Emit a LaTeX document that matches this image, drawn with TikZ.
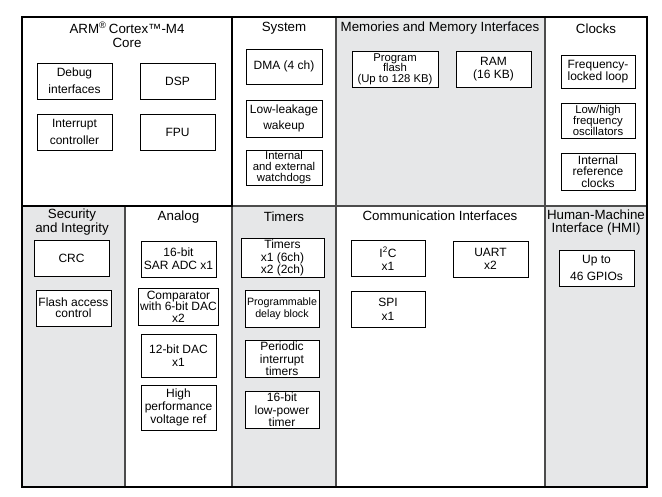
\documentclass[tikz,border=0pt]{standalone}
\usepackage{fontspec}
\setmainfont{Liberation Sans}
\definecolor{secgray}{HTML}{E6E7E8}
\tikzset{every picture/.style={line width=0.75pt}}
\tikzset{
  sec/.style={draw=black!70, line width=1.2pt},
  ttl/.style={align=center, inner sep=0pt, font=\fontsize{10}{10.5}\selectfont},
  blk/.style={draw, fill=white, line width=0.7pt, align=center, inner sep=1pt,
    minimum width=56.25pt, minimum height=27pt, font=\fontsize{9}{9.5}\selectfont},
  blkloose/.style={font=\fontsize{9}{12.5}\selectfont},
  blktight/.style={font=\fontsize{8.5}{8}\selectfont},
}

\begin{document}
\begin{tikzpicture}[x=0.75pt,y=0.75pt,yscale=-1]
	\useasboundingbox (0,0) rectangle (662,497);
	
	%Sections: top row
	\draw [sec, fill=white] (22,17) rectangle (232,206) ;
	\draw [sec, fill=white] (232,17) rectangle (336,206) ;
	\draw [sec, fill=secgray] (336,17) rectangle (545,206) ;
	\draw [sec, fill=white] (545,17) rectangle (647,206) ;
	%Sections: bottom row
	\draw [sec, fill=secgray] (22,206) rectangle (125,487) ;
	\draw [sec, fill=white] (125,206) rectangle (232,487) ;
	\draw [sec, fill=secgray] (232,206) rectangle (336,487) ;
	\draw [sec, fill=white] (336,206) rectangle (545,487) ;
	\draw [sec, fill=secgray] (545,206) rectangle (647,487) ;
	%Outer frame and core frame
	\draw [line width=1.5pt] (22,17) rectangle (647,487) ;
	\draw [line width=1.5pt] (22,17) rectangle (232,206) ;
	
	%Core
	\node [ttl] (coreT) at (127,34.5) {ARM\textsuperscript{\textregistered}\,Cortex™-M4\\Core};
	\node [blk, blkloose] (debug) at (74.5,81) {Debug\\interfaces};
	\node [blk] (dsp) at (177.5,81) {DSP};
	\node [blk, blkloose] (intc) at (74.5,132) {Interrupt\\controller};
	\node [blk] (fpu) at (177.5,132) {FPU};
	
	%System
	\node [ttl] (sysT) at (284,28) {System};
	\node [blk, minimum width=57pt, minimum height=26.25pt] (dma) at (284,66.5) {DMA (4 ch)};
	\node [blk, blkloose, minimum width=57pt, minimum height=27.75pt] (llwu) at (284,118.5) {Low-leakage\\wakeup};
	\node [blk, blktight, minimum width=57pt, minimum height=26.25pt] (wdog) at (284,167.5) {Internal\\and external\\watchdogs};
	
	%Memories
	\node [ttl] (memT) at (440,28) {Memories and Memory Interfaces};
	\node [blk, blktight, minimum width=64.5pt] (flash) at (395,69) {Program\\flash\\(Up to 128 KB)};
	\node [blk] (ram) at (493.5,69) {RAM\\(16 KB)};
	
	%Clocks
	\node [ttl] (clkT) at (596,29) {Clocks};
	\node [blk, minimum width=55.5pt, minimum height=24.75pt] (fll) at (598,71.5) {Frequency-\\locked loop};
	\node [blk, blktight, minimum width=55.5pt, minimum height=26.25pt] (osc) at (598,120.5) {Low/high\\frequency\\oscillators};
	\node [blk, minimum width=55.5pt, minimum height=27.75pt, font=\fontsize{9}{8.6}\selectfont] (irc) at (598,171.5) {Internal\\reference\\clocks};
	
	%Security and Integrity
	\node [ttl, font=\fontsize{10}{9}\selectfont] (secT) at (72,222) {Security\\and Integrity};
	\node [blk] (crc) at (71.5,258) {CRC};
	\node [blk, font=\fontsize{9}{8.3}\selectfont] (fac) at (73.5,308) {Flash access\\control};
	
	%Analog
	\node [ttl] (anaT) at (178.5,217) {Analog};
	\node [blk] (adc) at (178.5,259) {16-bit\\SAR ADC x1};
	\node [blk, minimum height=27.75pt, font=\fontsize{9}{8.6}\selectfont] (cmp) at (178.5,306.5) {Comparator\\with 6-bit DAC\\x2};
	\node [blk, minimum height=32.25pt] (dac) at (178.5,355.5) {12-bit DAC\\x1};
	\node [blk, minimum height=33.75pt] (vref) at (178.5,407.5) {High\\performance\\voltage ref};
	
	%Timers
	\node [ttl] (tmrT) at (284,217) {Timers};
	\node [blk, minimum width=62.25pt] (ftm) at (282.5,258) {Timers\\x1 (6ch)\\x2 (2ch)};
	\node [blk, minimum width=55.5pt, minimum height=27.75pt, font=\fontsize{8}{9}\selectfont] (pdb) at (282,308.5) {Programmable\\delay block};
	\node [blk, minimum width=55.5pt] (pit) at (282,359) {Periodic\\interrupt\\timers};
	\node [blk, minimum width=55.5pt] (lpt) at (282,410) {16-bit\\low-power\\timer};
	
	%Communication Interfaces
	\node [ttl] (comT) at (440,216) {Communication Interfaces};
	\node [blk, minimum width=55.5pt, font=\fontsize{9}{10}\selectfont] (iic) at (388,258.5) {I\textsuperscript{2}C\\x1};
	\node [blk, font=\fontsize{9}{10}\selectfont] (uart) at (490.5,259) {UART\\x2};
	\node [blk, minimum width=55.5pt, font=\fontsize{9}{10.5}\selectfont] (spi) at (388,309) {SPI\\x1};
	
	%Human-Machine Interface
	\node [ttl, font=\fontsize{10}{9.5}\selectfont] (hmiT) at (596,222.5) {Human-Machine\\Interface (HMI)};
	\node [blk, blkloose] (gpio) at (596.5,268) {Up to\\46 GPIOs};
\end{tikzpicture}
\end{document}
